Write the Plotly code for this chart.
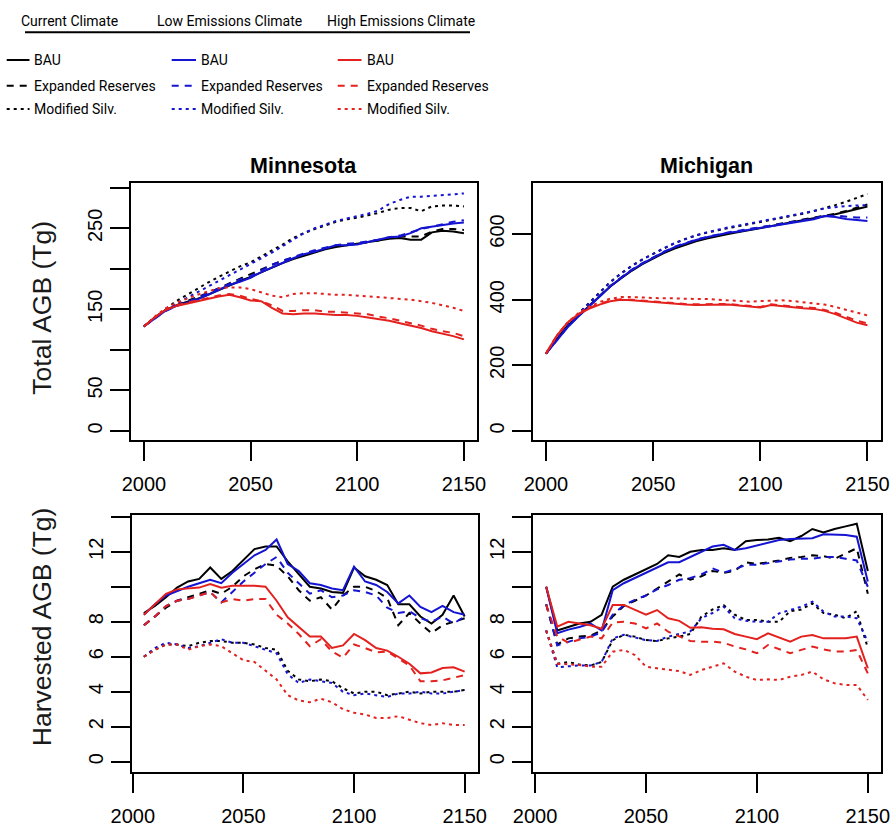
import plotly.graph_objects as go

W, H = 893, 831

years_agb = list(range(2000, 2151, 5))
years_harv = list(range(2005, 2151, 5))

# ---- Minnesota, total above-ground biomass (Tg) ----
mn_agb_cur_bau = [129, 140, 149, 155, 159, 163, 168, 174, 180, 185, 190, 196, 202, 207, 212, 216,
                  220, 224, 227, 229, 231, 233, 235, 237, 238, 236, 236, 245, 247, 246, 244]
mn_agb_cur_er = [129, 140, 149, 155, 160, 165, 170, 176, 182, 188, 193, 199, 205, 210, 214, 218,
                 222, 225, 228, 230, 231, 233, 235, 238, 240, 240, 240, 246, 249, 249, 248]
mn_agb_cur_ms = [129, 140, 150, 160, 168, 175, 183, 190, 197, 203, 208, 215, 222, 230, 238, 244,
                 249, 254, 258, 261, 263, 266, 269, 273, 275, 275, 271, 277, 278, 278, 277]
mn_agb_low_bau = [129, 139, 148, 154, 158, 162, 168, 174, 180, 184, 189, 196, 202, 208, 213, 218,
                  221, 225, 229, 229, 230, 233, 236, 239, 240, 244, 250, 252, 254, 256, 257]
mn_agb_low_er = [129, 139, 148, 154, 159, 164, 170, 176, 182, 187, 191, 198, 205, 210, 215, 219,
                 223, 226, 229, 231, 232, 234, 236, 239, 241, 245, 249, 252, 255, 258, 260]
mn_agb_low_ms = [129, 140, 149, 157, 164, 171, 178, 185, 192, 199, 206, 213, 220, 228, 236, 244,
                 250, 255, 259, 262, 265, 268, 272, 280, 285, 289, 289, 290, 291, 292, 293]
mn_agb_high_bau = [129, 140, 149, 154, 157, 160, 163, 166, 168, 165, 161, 160, 152, 145, 144, 145,
                   145, 144, 143, 143, 142, 140, 138, 136, 133, 130, 127, 123, 120, 117, 113]
mn_agb_high_er = [129, 140, 149, 155, 158, 161, 164, 167, 169, 167, 163, 160, 155, 148, 148, 149,
                  149, 147, 147, 146, 145, 144, 141, 139, 136, 133, 130, 126, 123, 121, 117]
mn_agb_high_ms = [129, 141, 151, 158, 163, 168, 172, 176, 177, 177, 175, 171, 167, 165, 169, 170,
                  170, 169, 168, 168, 167, 166, 165, 164, 163, 162, 160, 158, 155, 152, 148]

# ---- Michigan, total above-ground biomass (Tg) ----
mi_agb_cur_bau = [236, 280, 320, 350, 380, 410, 440, 465, 488, 508, 525, 542, 556, 568, 578, 586,
                  594, 600, 606, 612, 618, 623, 628, 634, 640, 646, 653, 660, 668, 676, 684]
mi_agb_cur_er = [236, 280, 320, 351, 382, 412, 442, 467, 490, 510, 527, 544, 558, 570, 580, 588,
                 596, 602, 608, 614, 620, 625, 630, 636, 642, 648, 655, 662, 670, 680, 690]
mi_agb_cur_ms = [236, 282, 325, 357, 390, 422, 454, 480, 503, 523, 540, 557, 572, 585, 596, 604,
                 612, 618, 624, 630, 636, 642, 648, 655, 662, 670, 678, 688, 698, 710, 722]
mi_agb_low_bau = [236, 275, 315, 348, 378, 410, 440, 466, 490, 510, 528, 545, 560, 572, 582, 590,
                  598, 604, 608, 613, 618, 623, 628, 633, 639, 645, 655, 652, 646, 642, 640]
mi_agb_low_er = [236, 276, 316, 349, 380, 411, 441, 467, 491, 511, 529, 546, 561, 573, 583, 591,
                 599, 605, 610, 615, 620, 625, 630, 636, 642, 648, 656, 656, 652, 650, 650]
mi_agb_low_ms = [236, 280, 323, 356, 389, 421, 453, 479, 502, 522, 540, 557, 572, 585, 596, 605,
                 613, 620, 626, 632, 638, 644, 650, 657, 664, 670, 678, 682, 685, 687, 688]
mi_agb_high_bau = [236, 290, 330, 355, 372, 385, 395, 400, 398, 395, 392, 390, 388, 385, 384, 385,
                   386, 385, 382, 378, 376, 384, 380, 376, 374, 372, 366, 356, 344, 330, 322]
mi_agb_high_er = [236, 290, 330, 356, 374, 388, 397, 401, 400, 397, 394, 392, 390, 387, 386, 387,
                  388, 387, 384, 380, 378, 386, 382, 379, 377, 375, 369, 360, 348, 336, 328]
mi_agb_high_ms = [236, 290, 330, 358, 378, 393, 403, 408, 408, 406, 405, 404, 404, 402, 402, 402,
                  400, 398, 396, 394, 396, 398, 398, 396, 393, 390, 385, 378, 370, 360, 352]

# ---- Minnesota, harvested above-ground biomass (Tg) ----
mn_h_cur_bau = [8.5, 8.9, 9.4, 9.95, 10.3, 10.45, 11.1, 10.45, 10.9, 11.5, 12.15, 12.3, 12.3, 11.45, 10.7,
                10.0, 9.9, 9.7, 9.65, 11.1, 10.6, 10.4, 10.1, 9.0, 9.0, 8.3, 7.9, 8.4, 9.5, 8.3]
mn_h_cur_er = [7.8, 8.3, 8.8, 9.2, 9.4, 9.6, 9.8, 9.6, 10.0, 10.6, 11.0, 11.3, 11.2, 10.6, 9.8,
               9.2, 9.4, 8.7, 9.5, 10.0, 10.0, 9.75, 9.35, 7.8, 8.5, 7.9, 7.35, 7.8, 8.0, 8.2]
mn_h_cur_ms = [6.0, 6.4, 6.7, 6.7, 6.6, 6.8, 6.9, 6.9, 6.8, 6.8, 6.7, 6.5, 6.4, 5.2, 4.7,
               4.6, 4.7, 4.6, 4.2, 3.9, 4.0, 4.0, 3.8, 3.9, 4.0, 3.9, 4.0, 4.0, 4.0, 4.1]
mn_h_low_bau = [8.4, 9.0, 9.5, 9.75, 10.0, 10.2, 10.4, 10.2, 10.8, 11.3, 11.8, 12.1, 12.7, 11.3, 10.9,
                10.2, 10.1, 9.9, 9.8, 11.15, 10.3, 10.1, 9.7, 9.05, 9.5, 8.85, 8.55, 8.9, 8.55, 8.4]
mn_h_low_er = [7.8, 8.3, 8.9, 9.2, 9.3, 9.5, 9.7, 9.1, 9.7, 10.3, 10.8, 11.3, 11.7, 10.8, 10.2,
               9.6, 9.8, 9.4, 9.5, 9.8, 9.7, 9.5, 8.8, 8.5, 8.6, 8.2, 8.0, 8.3, 7.9, 8.3]
mn_h_low_ms = [6.0, 6.5, 6.8, 6.7, 6.5, 6.6, 6.8, 7.0, 6.8, 6.8, 6.6, 6.4, 6.2, 5.0, 4.5,
               4.7, 4.6, 4.5, 4.0, 3.8, 3.9, 3.8, 3.7, 3.9, 3.9, 4.0, 3.9, 3.9, 4.0, 4.1]
mn_h_high_bau = [8.4, 9.0, 9.6, 9.85, 9.9, 9.95, 10.15, 9.95, 10.05, 10.05, 10.05, 10.0, 9.2, 8.25, 7.7,
                 7.15, 7.15, 6.5, 6.65, 7.3, 6.95, 6.5, 6.35, 6.0, 5.6, 5.05, 5.1, 5.35, 5.4, 5.15]
mn_h_high_er = [7.8, 8.3, 8.9, 9.2, 9.3, 9.5, 9.7, 9.1, 9.3, 9.2, 9.3, 9.3, 8.4, 7.9, 7.3,
                6.6, 7.0, 6.3, 5.95, 6.7, 6.5, 6.25, 6.3, 5.9, 5.5, 4.6, 4.6, 4.65, 4.8, 4.95]
mn_h_high_ms = [6.0, 6.4, 6.7, 6.7, 6.4, 6.6, 6.7, 6.6, 6.2, 5.8, 5.7, 5.2, 4.7, 3.8, 3.5,
                3.4, 3.6, 3.4, 3.0, 2.8, 2.7, 2.5, 2.5, 2.6, 2.4, 2.2, 2.1, 2.2, 2.1, 2.1]

# ---- Michigan, harvested above-ground biomass (Tg) ----
mi_h_cur_bau = [10.0, 7.5, 7.7, 7.9, 8.0, 8.4, 10.0, 10.4, 10.7, 11.0, 11.3, 11.8, 11.7, 12.0, 12.1,
                12.1, 12.2, 12.1, 12.6, 12.67, 12.7, 12.8, 12.6, 12.9, 13.3, 13.1, 13.3, 13.45, 13.6, 10.9]
mi_h_cur_er = [9.0, 6.7, 7.05, 7.15, 7.2, 7.5, 8.3, 8.9, 9.2, 9.5, 9.9, 10.3, 10.7, 10.4, 10.6,
               10.9, 10.8, 10.9, 11.4, 11.3, 11.4, 11.5, 11.65, 11.7, 11.8, 11.75, 11.6, 11.9, 12.2, 9.6]
mi_h_cur_ms = [7.5, 5.6, 5.7, 5.55, 5.5, 5.7, 6.95, 7.25, 7.15, 6.95, 6.9, 7.05, 7.15, 7.3, 8.3,
               8.7, 8.95, 8.4, 8.1, 8.1, 8.0, 8.0, 8.6, 8.7, 9.05, 8.5, 8.4, 8.2, 8.6, 6.5]
mi_h_low_bau = [10.0, 7.35, 7.55, 7.7, 7.9, 7.5, 9.8, 10.2, 10.5, 10.8, 11.1, 11.4, 11.4, 11.7, 12.0,
                12.3, 12.4, 12.1, 12.2, 12.35, 12.5, 12.67, 12.73, 12.73, 12.77, 13.0, 13.0, 12.96, 12.86, 10.3]
mi_h_low_er = [9.0, 6.65, 6.85, 7.05, 7.15, 7.4, 8.4, 8.95, 9.25, 9.5, 9.85, 10.1, 10.4, 10.5, 10.7,
               11.05, 10.8, 11.0, 11.25, 11.25, 11.35, 11.45, 11.55, 11.6, 11.6, 11.7, 11.7, 11.6, 11.5, 10.0]
mi_h_low_ms = [7.5, 5.4, 5.45, 5.5, 5.5, 5.7, 7.05, 7.25, 7.1, 6.95, 6.9, 7.15, 7.3, 7.45, 8.2,
               8.5, 8.86, 8.2, 8.05, 8.0, 8.0, 8.48, 8.67, 8.86, 9.15, 8.58, 8.3, 8.3, 8.2, 6.85]
mi_h_high_bau = [10.0, 7.72, 8.0, 7.9, 7.8, 7.6, 8.96, 8.96, 8.67, 8.4, 8.67, 8.2, 8.05, 7.65, 7.68,
                 7.6, 7.57, 7.3, 7.15, 7.0, 7.34, 7.1, 6.86, 7.15, 7.24, 7.05, 7.05, 7.05, 7.15, 5.34]
mi_h_high_er = [8.96, 7.15, 6.8, 6.96, 7.15, 7.05, 7.95, 8.0, 7.9, 7.62, 7.9, 7.43, 7.15, 6.9, 6.86,
                6.86, 6.8, 6.58, 6.42, 6.2, 6.67, 6.42, 6.2, 6.39, 6.58, 6.42, 6.3, 6.3, 6.39, 5.05]
mi_h_high_ms = [7.5, 5.6, 5.57, 5.53, 5.43, 5.43, 6.29, 6.39, 6.1, 5.43, 5.34, 5.24, 5.18, 4.96, 5.24,
                5.43, 5.62, 5.15, 4.86, 4.67, 4.71, 4.67, 4.86, 4.96, 5.15, 4.71, 4.48, 4.39, 4.39, 3.53]

climates = ["Current Climate", "Low Emissions Climate", "High Emissions Climate"]
scenarios = ["BAU", "Expanded Reserves", "Modified Silv."]

BLACK, BLUE, RED = "#000000", "#1414d2", "#e3211e"
climate_colors = [BLACK, BLUE, RED]
DASHES = ["solid", "7px,6px", "3px,4px"]
LW = 2

TICK_FONT = "Liberation Sans, Arial, Helvetica, sans-serif"
NARROW_FONT = "Liberation Sans Narrow, Arial Narrow, Roboto, sans-serif"


def fx(px):
    return px / W


def fy(py):
    return 1 - py / H


panels = [
    ("x", "y", years_agb, [[mn_agb_cur_bau, mn_agb_cur_er, mn_agb_cur_ms],
                           [mn_agb_low_bau, mn_agb_low_er, mn_agb_low_ms],
                           [mn_agb_high_bau, mn_agb_high_er, mn_agb_high_ms]]),
    ("x2", "y2", years_agb, [[mi_agb_cur_bau, mi_agb_cur_er, mi_agb_cur_ms],
                             [mi_agb_low_bau, mi_agb_low_er, mi_agb_low_ms],
                             [mi_agb_high_bau, mi_agb_high_er, mi_agb_high_ms]]),
    ("x3", "y3", years_harv, [[mn_h_cur_bau, mn_h_cur_er, mn_h_cur_ms],
                              [mn_h_low_bau, mn_h_low_er, mn_h_low_ms],
                              [mn_h_high_bau, mn_h_high_er, mn_h_high_ms]]),
    ("x4", "y4", years_harv, [[mi_h_cur_bau, mi_h_cur_er, mi_h_cur_ms],
                              [mi_h_low_bau, mi_h_low_er, mi_h_low_ms],
                              [mi_h_high_bau, mi_h_high_er, mi_h_high_ms]]),
]

fig = go.Figure()
for xa, ya, years, groups in panels:
    for ci, group in enumerate(groups):
        for si, values in enumerate(group):
            fig.add_trace(go.Scatter(
                x=years, y=values, mode="lines", xaxis=xa, yaxis=ya,
                name=f"{climates[ci]} – {scenarios[si]}",
                line=dict(color=climate_colors[ci], width=LW, dash=DASHES[si]),
                showlegend=False, hoverinfo="x+y+name",
            ))

axis_common = dict(
    automargin=False,
    showline=True, linecolor="black", linewidth=2, mirror=True,
    ticks="outside", ticklen=19, tickwidth=2, tickcolor="black",
    showgrid=False, zeroline=False,
    tickfont=dict(family=TICK_FONT, size=20, color="black"),
)

year_ticks = [2000, 2050, 2100, 2150]
xcommon = dict(axis_common, tickvals=year_ticks, ticktext=[str(v) for v in year_ticks],
               ticklabelstandoff=6)
ycommon = dict(axis_common, tickangle=-90, ticklabelstandoff=0)

mn_agb_ticks = [0, 50, 100, 150, 200, 250, 300]
mn_agb_labels = ["0", "50", "", "150", "", "250", ""]
mi_agb_ticks = [0, 200, 400, 600]
harv_ticks = [0, 2, 4, 6, 8, 10, 12, 14]
harv_labels = ["0", "2", "4", "6", "8", "", "12", ""]

top_dom = [fy(440), fy(183.3)]
bot_dom = [fy(771.7), fy(515)]

fig.update_layout(
    template="none",
    width=W, height=H,
    margin=dict(l=0, r=0, t=0, b=0, pad=0),
    paper_bgcolor="white", plot_bgcolor="white",
    showlegend=False,
    xaxis=dict(xcommon, domain=[fx(130.7), fx(476.7)], range=[1993.8, 2156.0], anchor="y"),
    yaxis=dict(ycommon, domain=top_dom, range=[-11.1, 305.5], anchor="x",
               tickvals=mn_agb_ticks, ticktext=mn_agb_labels),
    xaxis2=dict(xcommon, domain=[fx(532.7), fx(880.7)], range=[1993.8, 2156.2], anchor="y2"),
    yaxis2=dict(ycommon, domain=top_dom, range=[-27.4, 754.5], anchor="x2",
                tickvals=mi_agb_ticks, ticktext=[str(v) for v in mi_agb_ticks]),
    xaxis3=dict(xcommon, domain=[fx(131.7), fx(477.5)], range=[1999.5, 2155.8], anchor="y3"),
    yaxis3=dict(ycommon, domain=bot_dom, range=[-0.57, 14.1], anchor="x3",
                tickvals=harv_ticks, ticktext=harv_labels),
    xaxis4=dict(xcommon, domain=[fx(533.3), fx(880.7)], range=[1999.2, 2155.8], anchor="y4"),
    yaxis4=dict(ycommon, domain=bot_dom, range=[-0.57, 14.1], anchor="x4",
                tickvals=harv_ticks, ticktext=harv_labels),
)

annotations = []
shapes = []

# panel titles
for text, cx in [("<b>Minnesota</b>", 303.7), ("<b>Michigan</b>", 706.7)]:
    annotations.append(dict(text=text, x=fx(cx), y=fy(166), xref="paper", yref="paper",
                            xanchor="center", yanchor="middle", showarrow=False,
                            font=dict(family=TICK_FONT, size=21.5, color="black")))

# y-axis titles
for text, cy in [("Total AGB (Tg)", 308), ("Harvested AGB (Tg)", 626.5)]:
    annotations.append(dict(text=text, x=fx(41.7), y=fy(cy), xref="paper", yref="paper",
                            xanchor="center", yanchor="middle", showarrow=False, textangle=-90,
                            font=dict(family=TICK_FONT, size=26.5, color="#1a1a1a")))

# legend: climate headers with a rule beneath
header_cx = [69.9, 229.7, 401.3]
for text, hx in zip(climates, header_cx):
    annotations.append(dict(text=text, x=fx(hx), y=fy(21.5), xref="paper", yref="paper",
                            xanchor="center", yanchor="middle", showarrow=False,
                            font=dict(family=NARROW_FONT, size=14, color="black")))
shapes.append(dict(type="line", xref="paper", yref="paper",
                   x0=fx(25), x1=fx(470), y0=fy(32.3), y1=fy(32.3),
                   line=dict(color="black", width=2)))

# legend: scenario entries per climate column
sample_x = [(6.7, 29.5), (171.7, 196.0), (337.7, 361.5)]
label_x = [32.3, 199.0, 365.0]
row_y = [60, 85.7, 109]
for ci in range(3):
    for si in range(3):
        x0, x1 = sample_x[ci]
        shapes.append(dict(type="line", xref="paper", yref="paper",
                           x0=fx(x0), x1=fx(x1), y0=fy(row_y[si]), y1=fy(row_y[si]),
                           line=dict(color=climate_colors[ci], width=LW, dash=DASHES[si])))
        annotations.append(dict(text=scenarios[si], x=fx(label_x[ci]), y=fy(row_y[si] + 0.5),
                                xref="paper", yref="paper", xanchor="left", yanchor="middle",
                                showarrow=False,
                                font=dict(family=NARROW_FONT, size=14, color="black")))

fig.update_layout(annotations=annotations, shapes=shapes)

fig.write_html("out.html")
